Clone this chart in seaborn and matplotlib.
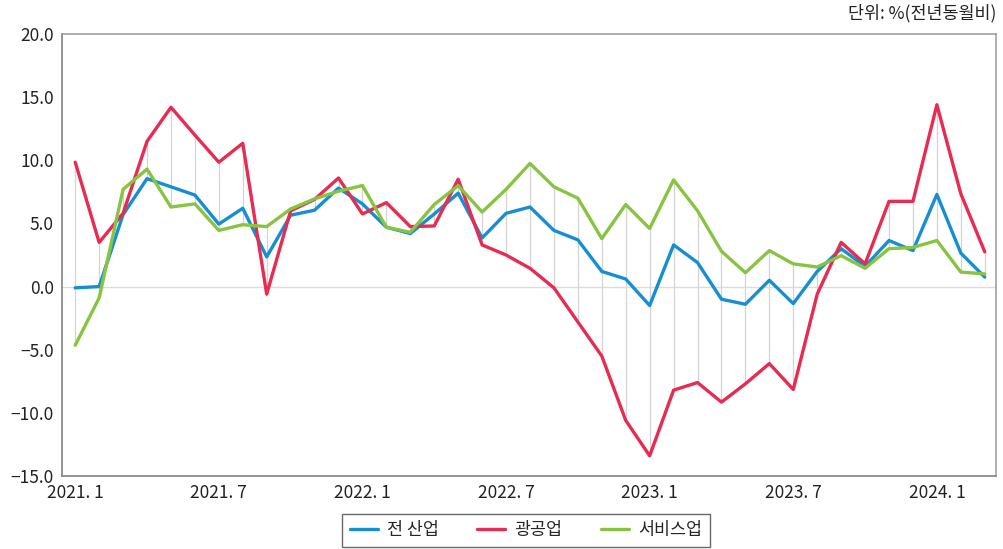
import numpy as np
import pandas as pd
import matplotlib
matplotlib.use("Agg")
import matplotlib.pyplot as plt
import seaborn as sns

# monthly, 2021.1 ~ 2024.3 (전년동월비, %)
months = [f"{y}.{m}" for y in range(2021, 2025) for m in range(1, 13)][:39]

all_ind = [-0.1, 0.0, 5.7, 8.55, 7.9, 7.25, 4.95, 6.2, 2.35, 5.65, 6.05, 7.8,
           6.55, 4.7, 4.2, 5.75, 7.4, 3.85, 5.8, 6.3, 4.45, 3.7, 1.2, 0.6,
           -1.5, 3.3, 1.9, -1.0, -1.4, 0.5, -1.35, 1.2, 3.0, 1.6, 3.65, 2.85,
           7.3, 2.65, 0.75]
mining_mfg = [9.85, 3.5, 5.8, 11.5, 14.2, 12.0, 9.85, 11.35, -0.6, 6.0, 6.9, 8.6,
              5.75, 6.65, 4.75, 4.8, 8.5, 3.3, 2.5, 1.45, -0.1, -2.8, -5.5, -10.6,
              -13.4, -8.2, -7.6, -9.15, -7.7, -6.1, -8.15, -0.6, 3.5, 1.8, 6.75, 6.75,
              14.4, 7.35, 2.75]
services = [-4.65, -0.9, 7.7, 9.3, 6.3, 6.55, 4.45, 4.9, 4.75, 6.15, 6.95, 7.55,
            8.0, 4.7, 4.3, 6.5, 8.0, 5.9, 7.7, 9.75, 7.9, 7.0, 3.8, 6.5,
            4.6, 8.45, 6.0, 2.8, 1.1, 2.85, 1.8, 1.55, 2.45, 1.45, 3.0, 3.1,
            3.65, 1.15, 1.0]

series_names = ["전 산업", "광공업", "서비스업"]
colors = ["#168fd2", "#e62c50", "#88c442"]
tick_pos = [0, 6, 12, 18, 24, 30, 36]
tick_labels = ["2021. 1", "2021. 7", "2022. 1", "2022. 7", "2023. 1", "2023. 7", "2024. 1"]

df = pd.DataFrame({"idx": np.arange(len(months)),
                   series_names[0]: all_ind,
                   series_names[1]: mining_mfg,
                   series_names[2]: services})
long = df.melt(id_vars="idx", var_name="구분", value_name="값")

sns.set_style("white")
plt.rcParams["font.family"] = ["Noto Sans CJK KR", "DejaVu Sans"]

fig = plt.figure(figsize=(10.04, 5.49), dpi=100)
ax = fig.add_axes([0.0618, 0.133, 0.930, 0.805])

# high-low lines and zero line
vals = df[series_names].to_numpy()
ax.vlines(df["idx"], vals.min(axis=1), vals.max(axis=1), color="#d4d4d4", lw=0.9, zorder=1)
ax.axhline(0, color="#dcdcdc", lw=1, zorder=1)

sns.lineplot(data=long, x="idx", y="값", hue="구분", palette=colors,
             hue_order=series_names, lw=2.4, ax=ax, legend=False, zorder=3)

ax.set_xlim(-0.55, 38.46)
ax.set_ylim(-15, 20)
ax.set_yticks(np.arange(-15, 21, 5))
ax.set_yticklabels([f"{v:.1f}".replace("-", "−") for v in np.arange(-15, 21, 5)])
ax.set_xticks(tick_pos)
ax.set_xticklabels(tick_labels)
ax.tick_params(axis="both", length=0, labelsize=12.5, colors="#222222")
ax.tick_params(axis="x", pad=6)
ax.tick_params(axis="y", pad=6)
ax.set_xlabel("")
ax.set_ylabel("")
for s in ["left", "bottom"]:
    ax.spines[s].set_color("#8a8a8a")
    ax.spines[s].set_linewidth(1.3)
for s in ["top", "right"]:
    ax.spines[s].set_color("#9a9a9a")
    ax.spines[s].set_linewidth(1.1)

fig.text(0.992, 0.975, "단위: %(전년동월비)", ha="right", va="center", fontsize=12.5, color="#222222")

handles = [plt.Line2D([], [], color=c, lw=2.4) for c in colors]
leg = fig.legend(handles, series_names, loc="center", bbox_to_anchor=(0.524, 0.034), ncol=3,
                 frameon=True, fancybox=False, fontsize=12.5, handlelength=1.6,
                 handletextpad=0.55, columnspacing=2.2, borderpad=0.45, borderaxespad=0,
                 edgecolor="#444444")
leg.get_frame().set_linewidth(1.0)

fig.savefig("out.png", dpi=100)
